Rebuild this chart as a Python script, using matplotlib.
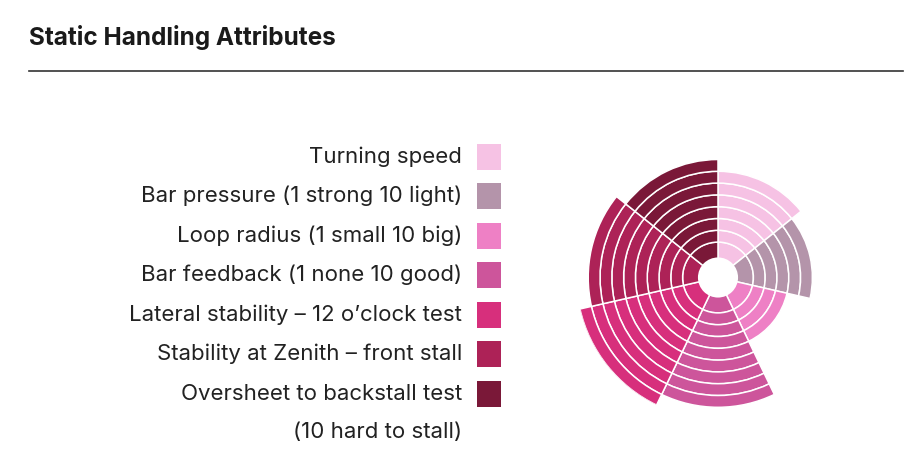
import matplotlib.pyplot as plt
from matplotlib.patches import Rectangle, Circle
import numpy as np

plt.rcParams['font.family'] = ['Inter', 'DejaVu Sans']

labels = ['Turning speed',
          'Bar pressure (1 strong 10 light)',
          'Loop radius (1 small 10 big)',
          'Bar feedback (1 none 10 good)',
          'Lateral stability \u2013 12 o\u2019clock test',
          'Stability at Zenith \u2013 front stall',
          'Oversheet to backstall test']
note = '(10 hard to stall)'
rings = [9, 8, 6, 11, 12, 11, 10]
colors = ['#F6C2E4', '#B494AA', '#EE80C5', '#CD559B', '#D72F7C', '#AD2257', '#7A1838']

W, H = 920, 458
fig = plt.figure(figsize=(W / 100, H / 100), dpi=100)

# title and rule
fig.text(29 / W, 1 - 38 / H, 'Static Handling Attributes', fontsize=17.5, fontweight='bold',
         color='#1a1a1a', va='center', ha='left')
fig.add_artist(plt.Line2D([29 / W, 903 / W], [1 - 71 / H, 1 - 71 / H], color='#333333', lw=1.2))

# legend
for i, (lab, c) in enumerate(zip(labels, colors)):
    yc = 156.7 + 39.5 * i
    fig.text(462 / W, 1 - (yc + 6) / H, lab, fontsize=16, color='#222222',
             ha='right', va='baseline')
    fig.add_artist(Rectangle((477 / W, 1 - (yc + 13) / H), 24 / W, 26 / H,
                             transform=fig.transFigure, facecolor=c, edgecolor='none'))
fig.text(462 / W, 1 - 438 / H, note, fontsize=16, color='#222222', ha='right', va='baseline')

# polar ring chart
px_per_unit = 11.8
rmax = 12
R = px_per_unit * rmax
cx, cy = 718, 180.5
ax = fig.add_axes([(cx - R) / W, (cy - R) / H, 2 * R / W, 2 * R / H], projection='polar')
ax.set_theta_zero_location('N')
ax.set_theta_direction(-1)

n = len(rings)
width = 2 * np.pi / n
for i, (v, c) in enumerate(zip(rings, colors)):
    theta = i * width + width / 2
    # innermost band runs from the hole out to the third ring line
    bottoms = np.r_[0, np.arange(3, v)]
    heights = np.r_[3, np.ones(v - 3)]
    ax.bar([theta] * len(bottoms), heights, width=width, bottom=bottoms, color=c,
           edgecolor='white', linewidth=1.1, align='center')

ax.add_artist(Circle((0, 0), 1.7, transform=ax.transData._b, facecolor='white',
                     edgecolor='none', zorder=5))
ax.set_ylim(0, rmax)
ax.set_axis_off()

fig.savefig('out.png', dpi=100)
